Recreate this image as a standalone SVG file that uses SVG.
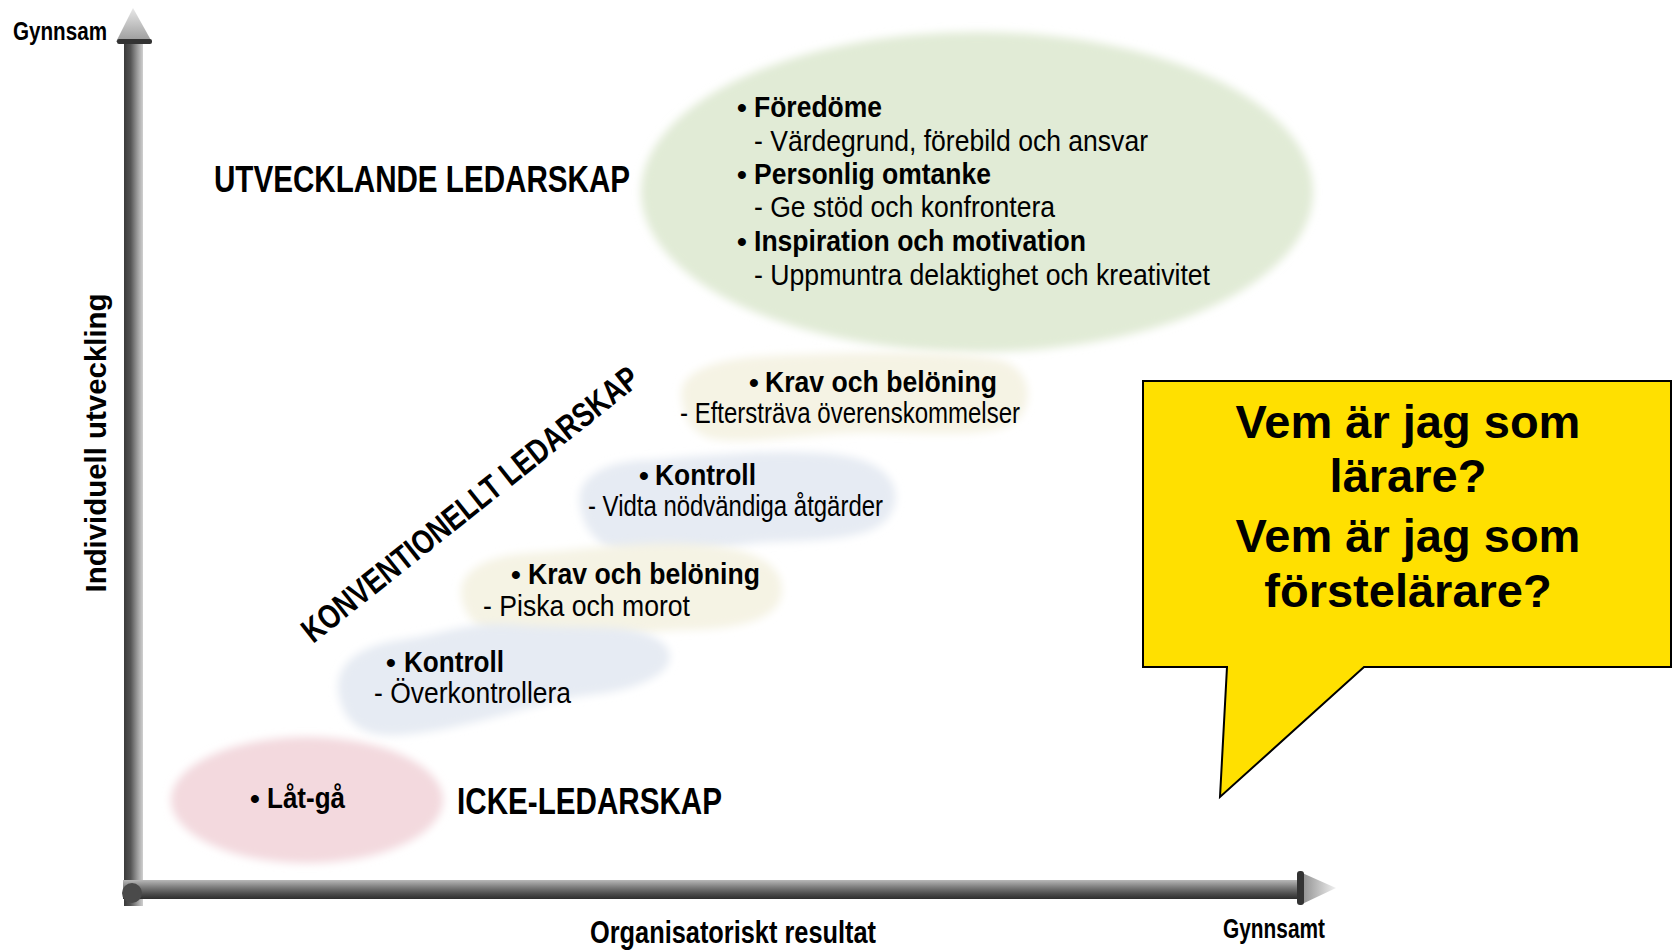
<svg xmlns="http://www.w3.org/2000/svg" width="1675" height="952" viewBox="0 0 1675 952">
<style>
.t{font-family:"Liberation Sans Narrow","Liberation Sans",Arial,sans-serif;fill:#000}
.w{font-family:"Liberation Sans",Arial,sans-serif;fill:#000}
.b{font-weight:bold}
.f28{font-size:28px}
.f29{font-size:29.5px}
.f36{font-size:37px}
.q{font-family:"Liberation Sans",Arial,sans-serif;font-weight:bold;font-size:47px;fill:#000;text-anchor:middle}
.blob{filter:url(#soft)}
</style>
<defs>
<filter id="soft" x="-10%" y="-10%" width="120%" height="120%"><feGaussianBlur stdDeviation="4"/></filter>
<linearGradient id="gV" x1="0" y1="0" x2="1" y2="0">
<stop offset="0" stop-color="#3a3a3a"/><stop offset="0.35" stop-color="#555"/><stop offset="0.7" stop-color="#9a9a9a"/><stop offset="1" stop-color="#d0d0d0"/>
</linearGradient>
<linearGradient id="gH" x1="0" y1="0" x2="0" y2="1">
<stop offset="0" stop-color="#b8b8b8"/><stop offset="0.4" stop-color="#7a7a7a"/><stop offset="0.75" stop-color="#4a4a4a"/><stop offset="1" stop-color="#2e2e2e"/>
</linearGradient>
<linearGradient id="gHeadV" x1="0" y1="0" x2="0" y2="1">
<stop offset="0" stop-color="#e8e8e8"/><stop offset="1" stop-color="#9a9a9a"/>
</linearGradient>
<linearGradient id="gHeadH" x1="0" y1="0" x2="1" y2="0">
<stop offset="0" stop-color="#8a8a8a"/><stop offset="1" stop-color="#f0f0f0"/>
</linearGradient>
</defs>

<g id="bg-shapes">
<ellipse id="shape-green" class="blob" cx="977" cy="192" rx="336" ry="160" fill="#e1ebd6"/>
<path id="shape-yellow-top" class="blob" fill="#f5f3e4" d="M682 400 C675 370 720 358 770 356 C850 352 950 350 1000 360 C1035 370 1035 410 1010 425 C980 440 900 430 850 433 C790 436 740 445 710 438 C690 432 684 415 682 400 Z"/>
<path id="shape-blue-top" class="blob" fill="#e6ebf3" d="M580 505 C575 475 610 460 650 460 C720 455 780 448 840 455 C890 462 905 490 890 515 C875 540 820 540 770 542 C720 545 680 560 630 555 C600 550 583 530 580 505 Z"/>
<path id="shape-yellow-low" class="blob" fill="#f5f3e4" d="M462 600 C455 570 490 555 530 553 C590 550 640 540 700 545 C760 548 790 570 780 600 C770 625 720 630 680 630 C630 632 580 645 530 642 C490 640 468 625 462 600 Z"/>
<ellipse id="shape-pink" class="blob" cx="307" cy="800" rx="136" ry="63" fill="#f3d9de"/>
<path id="shape-blue-low" class="blob" fill="#e6ebf3" d="M340 700 C330 665 360 645 400 640 C440 635 470 620 520 625 C580 630 640 620 665 645 C685 670 640 690 590 695 C540 700 470 730 400 735 C360 738 345 720 340 700 Z"/>
</g>

<g id="connectors">
<rect x="124" y="40" width="19" height="866" fill="url(#gV)"/>
<polygon points="133,8 116,42 152,42" fill="url(#gHeadV)"/>
<rect x="117" y="39" width="35" height="5" rx="2" fill="#333"/>
<rect x="123" y="880" width="1180" height="19" fill="url(#gH)"/>
<polygon points="1300,872 1336,888 1300,905" fill="url(#gHeadH)"/>
<rect x="1297" y="871" width="7" height="34" rx="3" fill="#333"/>
<circle cx="132" cy="893" r="10" fill="#4a4a4a"/>
</g>

<g id="axis-labels">
<text class="t b" x="13" y="40" font-size="25" textLength="94" lengthAdjust="spacingAndGlyphs">Gynnsam</text>
<text class="t b" x="590" y="943" font-size="32" textLength="286" lengthAdjust="spacingAndGlyphs">Organisatoriskt resultat</text>
<text class="t b" x="1223" y="938" font-size="27" textLength="102" lengthAdjust="spacingAndGlyphs">Gynnsamt</text>
<text class="w b" transform="translate(106,443) rotate(-90)" font-size="29" text-anchor="middle" textLength="299" lengthAdjust="spacingAndGlyphs">Individuell utveckling</text>
</g>

<g id="node-utvecklande">
<text class="t b f36" x="214" y="192" textLength="416" lengthAdjust="spacingAndGlyphs">UTVECKLANDE LEDARSKAP</text>
<text class="t b f28" x="737" y="117">•</text>
<text class="t b f29" x="754" y="117" textLength="128" lengthAdjust="spacingAndGlyphs">Föredöme</text>
<text class="t f29" x="754" y="151" textLength="394" lengthAdjust="spacingAndGlyphs">- Värdegrund, förebild och ansvar</text>
<text class="t b f28" x="737" y="184">•</text>
<text class="t b f29" x="754" y="184" textLength="237" lengthAdjust="spacingAndGlyphs">Personlig omtanke</text>
<text class="t f29" x="754" y="217" textLength="301" lengthAdjust="spacingAndGlyphs">- Ge stöd och konfrontera</text>
<text class="t b f28" x="737" y="251">•</text>
<text class="t b f29" x="754" y="251" textLength="332" lengthAdjust="spacingAndGlyphs">Inspiration och motivation</text>
<text class="t f29" x="754" y="285" textLength="456" lengthAdjust="spacingAndGlyphs">- Uppmuntra delaktighet och kreativitet</text>
</g>

<g id="node-konventionellt">
<text class="t b" font-size="34" transform="translate(313,644) rotate(-38.5)" textLength="420" lengthAdjust="spacingAndGlyphs">KONVENTIONELLT LEDARSKAP</text>
<text class="t b f28" x="749" y="392">•</text>
<text class="t b f29" x="765" y="392" textLength="232" lengthAdjust="spacingAndGlyphs">Krav och belöning</text>
<text class="t f29" x="680" y="423" textLength="340" lengthAdjust="spacingAndGlyphs">- Eftersträva överenskommelser</text>
<text class="t b f28" x="639" y="485">•</text>
<text class="t b f29" x="655" y="485" textLength="101" lengthAdjust="spacingAndGlyphs">Kontroll</text>
<text class="t f29" x="588" y="516" textLength="295" lengthAdjust="spacingAndGlyphs">- Vidta nödvändiga åtgärder</text>
<text class="t b f28" x="511" y="584">•</text>
<text class="t b f29" x="528" y="584" textLength="232" lengthAdjust="spacingAndGlyphs">Krav och belöning</text>
<text class="t f29" x="483" y="616" textLength="207" lengthAdjust="spacingAndGlyphs">- Piska och morot</text>
<text class="t b f28" x="386" y="672">•</text>
<text class="t b f29" x="404" y="672" textLength="100" lengthAdjust="spacingAndGlyphs">Kontroll</text>
<text class="t f29" x="374" y="703" textLength="197" lengthAdjust="spacingAndGlyphs">- Överkontrollera</text>
</g>

<g id="node-icke">
<text class="t b f28" x="250" y="808">•</text>
<text class="t b f29" x="267" y="808" textLength="78" lengthAdjust="spacingAndGlyphs">Låt-gå</text>
<text class="t b f36" x="457" y="814" textLength="265" lengthAdjust="spacingAndGlyphs">ICKE-LEDARSKAP</text>
</g>

<g id="node-callout">
<polygon points="1143,381 1671,381 1671,667 1364,667 1220,797 1227,667 1143,667" fill="#ffe000" stroke="#000" stroke-width="2"/>
<text class="q" x="1408" y="438">Vem är jag som</text>
<text class="q" x="1408" y="492">lärare?</text>
<text class="q" x="1408" y="552">Vem är jag som</text>
<text class="q" x="1408" y="607">förstelärare?</text>
</g>
</svg>
